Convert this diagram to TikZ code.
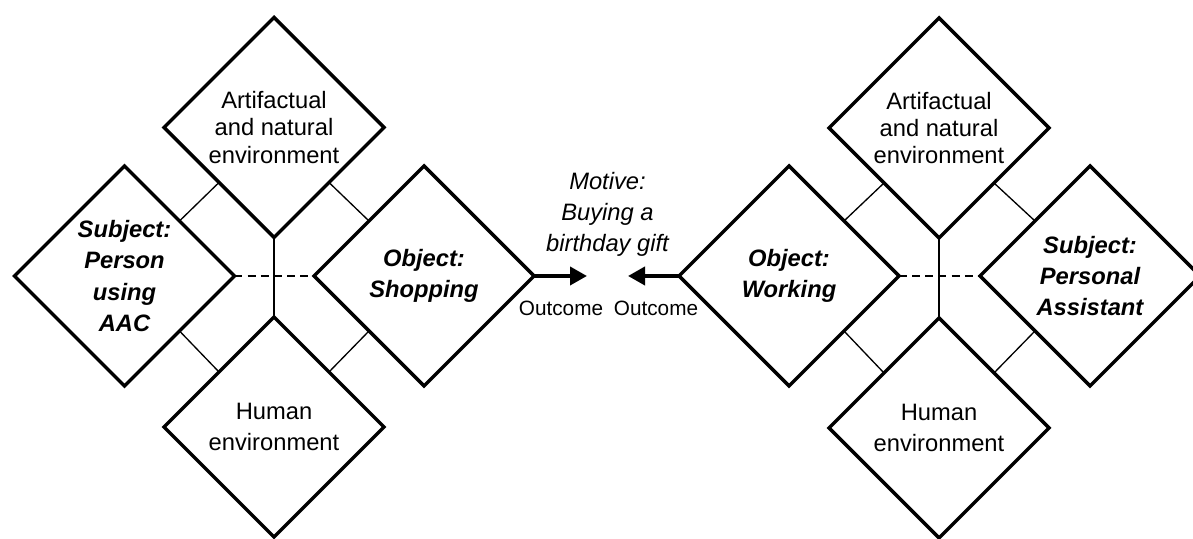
\documentclass[tikz,border=0pt]{standalone}
\usepackage{fontspec}
\setmainfont{Liberation Sans}
\usetikzlibrary{shapes.geometric,arrows.meta}

\begin{document}
\begin{tikzpicture}[
  box/.style={draw,diamond,line width=2pt,minimum width=4.4cm,minimum height=4.4cm,
    inner sep=0pt,outer sep=0pt,align=center,font=\fontsize{13.5}{17.8}\selectfont},
  envbox/.style={box,font=\fontsize{13.5}{15.6}\selectfont},
  keybox/.style={box,font=\fontsize{13.5}{17.8}\selectfont\bfseries\itshape},
  link/.style={line width=0.75pt},
  outcome/.style={line width=2.2pt,-{Triangle[length=0.34cm,width=0.36cm]}}
]
\useasboundingbox (0,0) rectangle (23.86,10.78);

\node[envbox] (E1) at (5.48,8.23) {Artifactual\\and natural\\environment};
\node[keybox] (S1) at (2.49,5.26) {Subject:\\Person\\using\\AAC};
\node[keybox] (O1) at (8.48,5.26) {Object:\\Shopping};
\node[box] (H1) at (5.48,2.24) {Human\\environment};

\node[envbox] (E2) at (18.78,8.22) {Artifactual\\and natural\\environment};
\node[keybox] (O2) at (15.78,5.26) {Object:\\Working};
\node[keybox] (S2) at (21.80,5.26) {Subject:\\Personal\\Assistant};
\node[box] (H2) at (18.78,2.22) {Human\\environment};

\draw[link] (E1.south west)--(S1.north east);
\draw[link] (E1.south east)--(O1.north west);
\draw[link] (H1.north west)--(S1.south east);
\draw[link] (H1.north east)--(O1.south west);
\draw[link] (E1.south)--(H1.north);
\draw[link,dash pattern=on 4.5pt off 3pt] (S1.east)--(O1.west);

\draw[link] (E2.south west)--(O2.north east);
\draw[link] (E2.south east)--(S2.north west);
\draw[link] (H2.north west)--(O2.south east);
\draw[link] (H2.north east)--(S2.south west);
\draw[link] (E2.south)--(H2.north);
\draw[link,dash pattern=on 4.5pt off 3pt] (O2.east)--(S2.west);

\coordinate (T1) at (11.74,5.26);
\coordinate (T2) at (12.56,5.26);
\draw[outcome] (O1.east)--(T1);
\draw[outcome] (O2.west)--(T2);

\node[align=center,font=\fontsize{13.5}{17.6}\selectfont\itshape] (M) at (12.15,6.5) {Motive:\\Buying a\\birthday gift};
\node[font=\fontsize{11.8}{14}\selectfont] (L1) at (11.22,4.62) {Outcome};
\node[font=\fontsize{11.8}{14}\selectfont] (L2) at (13.12,4.62) {Outcome};
\end{tikzpicture}
\end{document}
